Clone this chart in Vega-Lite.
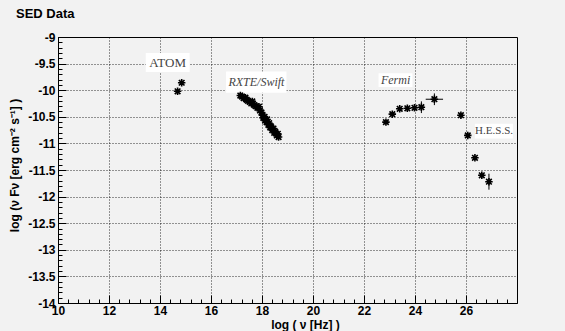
{
  "$schema": "https://vega.github.io/schema/vega-lite/v6.json",
  "autosize": "none",
  "width": 459,
  "height": 266,
  "padding": {"left": 58, "top": 37, "right": 48, "bottom": 28},
  "background": "#f2f2f2",
  "title": {"text": "SED Data", "anchor": "start", "frame": "group", "dx": -42, "offset": 0, "dy": 0, "fontSize": 13, "fontWeight": "bold", "font": "Liberation Sans", "color": "black", "baseline": "alphabetic"},
  "config": {
    "view": {"stroke": "black", "strokeWidth": 1, "fill": "#f2f2f2"},
    "axis": {"labelFont": "Liberation Sans", "labelFontWeight": "bold", "labelFontSize": 12, "labelColor": "black", "titleFont": "Liberation Sans", "titleFontWeight": "bold", "titleFontSize": 12, "titleColor": "black", "domainColor": "black", "tickColor": "black", "gridColor": "black", "gridDash": [1, 2], "labelFlush": false, "labelOverlap": false}
  },
  "datasets": {
    "points": [
      {"x": 14.69, "y": -10.02}, {"x": 14.85, "y": -9.86},
      {"x": 17.15, "y": -10.10}, {"x": 17.22, "y": -10.12}, {"x": 17.28, "y": -10.15}, {"x": 17.35, "y": -10.14},
      {"x": 17.40, "y": -10.18}, {"x": 17.45, "y": -10.20}, {"x": 17.52, "y": -10.22}, {"x": 17.58, "y": -10.25},
      {"x": 17.62, "y": -10.21}, {"x": 17.70, "y": -10.28}, {"x": 17.75, "y": -10.30}, {"x": 17.82, "y": -10.33},
      {"x": 17.88, "y": -10.31}, {"x": 17.92, "y": -10.38}, {"x": 17.98, "y": -10.42}, {"x": 18.02, "y": -10.47},
      {"x": 18.05, "y": -10.52}, {"x": 18.10, "y": -10.50}, {"x": 18.12, "y": -10.57}, {"x": 18.18, "y": -10.60},
      {"x": 18.20, "y": -10.55}, {"x": 18.25, "y": -10.65}, {"x": 18.28, "y": -10.62}, {"x": 18.32, "y": -10.70},
      {"x": 18.35, "y": -10.68}, {"x": 18.40, "y": -10.75}, {"x": 18.45, "y": -10.72}, {"x": 18.48, "y": -10.80},
      {"x": 18.52, "y": -10.78}, {"x": 18.58, "y": -10.85}, {"x": 18.62, "y": -10.82}, {"x": 18.65, "y": -10.88},
      {"x": 22.86, "y": -10.60}, {"x": 23.11, "y": -10.45}, {"x": 23.40, "y": -10.35}, {"x": 23.70, "y": -10.34},
      {"x": 23.98, "y": -10.33}, {"x": 24.25, "y": -10.32}, {"x": 24.76, "y": -10.17},
      {"x": 25.80, "y": -10.47}, {"x": 26.07, "y": -10.85}, {"x": 26.35, "y": -11.27}, {"x": 26.62, "y": -11.60}, {"x": 26.90, "y": -11.72}
    ],
    "errs": [
      {"x": 24.25, "y": -10.32, "xlo": 24.15, "xhi": 24.35, "ylo": -10.43, "yhi": -10.21},
      {"x": 24.76, "y": -10.17, "xlo": 24.42, "xhi": 25.10, "ylo": -10.28, "yhi": -10.06},
      {"x": 26.90, "y": -11.72, "xlo": 26.82, "xhi": 26.98, "ylo": -11.87, "yhi": -11.57}
    ],
    "labels": [
      {"label": "ATOM", "x": 14.30, "y": -9.48, "x1": 13.44, "x2": 15.16, "y1": -9.30, "y2": -9.66},
      {"label": "RXTE/Swift", "x": 17.78, "y": -9.85, "x1": 16.59, "x2": 18.96, "y1": -9.65, "y2": -10.05},
      {"label": "Fermi", "x": 23.24, "y": -9.81, "x1": 22.57, "x2": 23.90, "y1": -9.68, "y2": -9.94},
      {"label": "H.E.S.S.", "x": 27.10, "y": -10.77, "x1": 26.35, "x2": 27.84, "y1": -10.63, "y2": -10.91}
    ]
  },
  "encoding": {
    "x": {
      "field": "x", "type": "quantitative",
      "scale": {"domain": [10, 28], "nice": false, "zero": false},
      "axis": {
        "title": "log ( ν [Hz] )",
        "titleX": 247, "titleY": 25, "titleBaseline": "alphabetic",
        "values": [10,10.4,10.8,11.2,11.6,12,12.4,12.8,13.2,13.6,14,14.4,14.8,15.2,15.6,16,16.4,16.8,17.2,17.6,18,18.4,18.8,19.2,19.6,20,20.4,20.8,21.2,21.6,22,22.4,22.8,23.2,23.6,24,24.4,24.8,25.2,25.6,26,26.4,26.8,27.2,27.6],
        "labelExpr": "abs(datum.value/2 - round(datum.value/2)) < 0.001 ? '' + datum.value : ''",
        "tickSize": {"condition": {"test": "abs(datum.value/2 - round(datum.value/2)) < 0.001", "value": -8}, "value": -4},
        "gridOpacity": {"condition": {"test": "abs(datum.value/2 - round(datum.value/2)) < 0.001", "value": 0.8}, "value": 0},
        "grid": true,
        "labelPadding": 10
      }
    },
    "y": {
      "field": "y", "type": "quantitative",
      "scale": {"domain": [-14, -9], "nice": false, "zero": false},
      "axis": {
        "title": "log (ν Fν [erg cm⁻² s⁻¹] )",
        "titleX": -44, "titleY": 128, "titleBaseline": "middle", "titleAngle": -90, "titleAlign": "center",
        "values": [-14,-13.9,-13.8,-13.7,-13.6,-13.5,-13.4,-13.3,-13.2,-13.1,-13,-12.9,-12.8,-12.7,-12.6,-12.5,-12.4,-12.3,-12.2,-12.1,-12,-11.9,-11.8,-11.7,-11.6,-11.5,-11.4,-11.3,-11.2,-11.1,-11,-10.9,-10.8,-10.7,-10.6,-10.5,-10.4,-10.3,-10.2,-10.1,-10,-9.9,-9.8,-9.7,-9.6,-9.5,-9.4,-9.3,-9.2,-9.1,-9],
        "labelExpr": "abs(datum.value*2 - round(datum.value*2)) < 0.001 ? '' + datum.value : ''",
        "tickSize": {"condition": {"test": "abs(datum.value*2 - round(datum.value*2)) < 0.001", "value": -8}, "value": -4},
        "gridOpacity": {"condition": {"test": "abs(datum.value*2 - round(datum.value*2)) < 0.001", "value": 0.8}, "value": 0},
        "grid": true,
        "labelPadding": 11
      }
    }
  },
  "layer": [
    {
      "data": {"name": "labels"},
      "mark": {"type": "rect", "fill": "white", "stroke": null},
      "encoding": {
        "x": {"field": "x1", "type": "quantitative"},
        "x2": {"field": "x2"},
        "y": {"field": "y1", "type": "quantitative"},
        "y2": {"field": "y2"}
      }
    },
    {
      "data": {"name": "labels"},
      "transform": [{"filter": "datum.label == 'ATOM'"}],
      "mark": {"type": "text", "font": "Liberation Serif", "fontSize": 13, "color": "#444", "align": "center", "baseline": "middle"},
      "encoding": {"text": {"field": "label"}}
    },
    {
      "data": {"name": "labels"},
      "transform": [{"filter": "datum.label == 'H.E.S.S.'"}],
      "mark": {"type": "text", "font": "Liberation Serif", "fontSize": 11, "color": "#444", "align": "center", "baseline": "middle"},
      "encoding": {"text": {"field": "label"}}
    },
    {
      "data": {"name": "labels"},
      "transform": [{"filter": "datum.label == 'RXTE/Swift' || datum.label == 'Fermi'"}],
      "mark": {"type": "text", "font": "Liberation Serif", "fontStyle": "italic", "fontSize": 12, "color": "#444", "align": "center", "baseline": "middle"},
      "encoding": {"text": {"field": "label"}}
    },
    {
      "data": {"name": "errs"},
      "mark": {"type": "rule", "color": "black", "strokeWidth": 1},
      "encoding": {
        "x": {"field": "xlo", "type": "quantitative"},
        "x2": {"field": "xhi"}
      }
    },
    {
      "data": {"name": "errs"},
      "mark": {"type": "rule", "color": "black", "strokeWidth": 1},
      "encoding": {
        "y": {"field": "ylo", "type": "quantitative"},
        "y2": {"field": "yhi"}
      }
    },
    {
      "data": {"name": "points"},
      "mark": {"type": "point", "shape": "M-1,0L1,0M0,-1L0,1M-0.75,-0.75L0.75,0.75M-0.75,0.75L0.75,-0.75", "filled": false, "stroke": "black", "strokeWidth": 1.6, "size": 56, "opacity": 1}
    }
  ]
}
